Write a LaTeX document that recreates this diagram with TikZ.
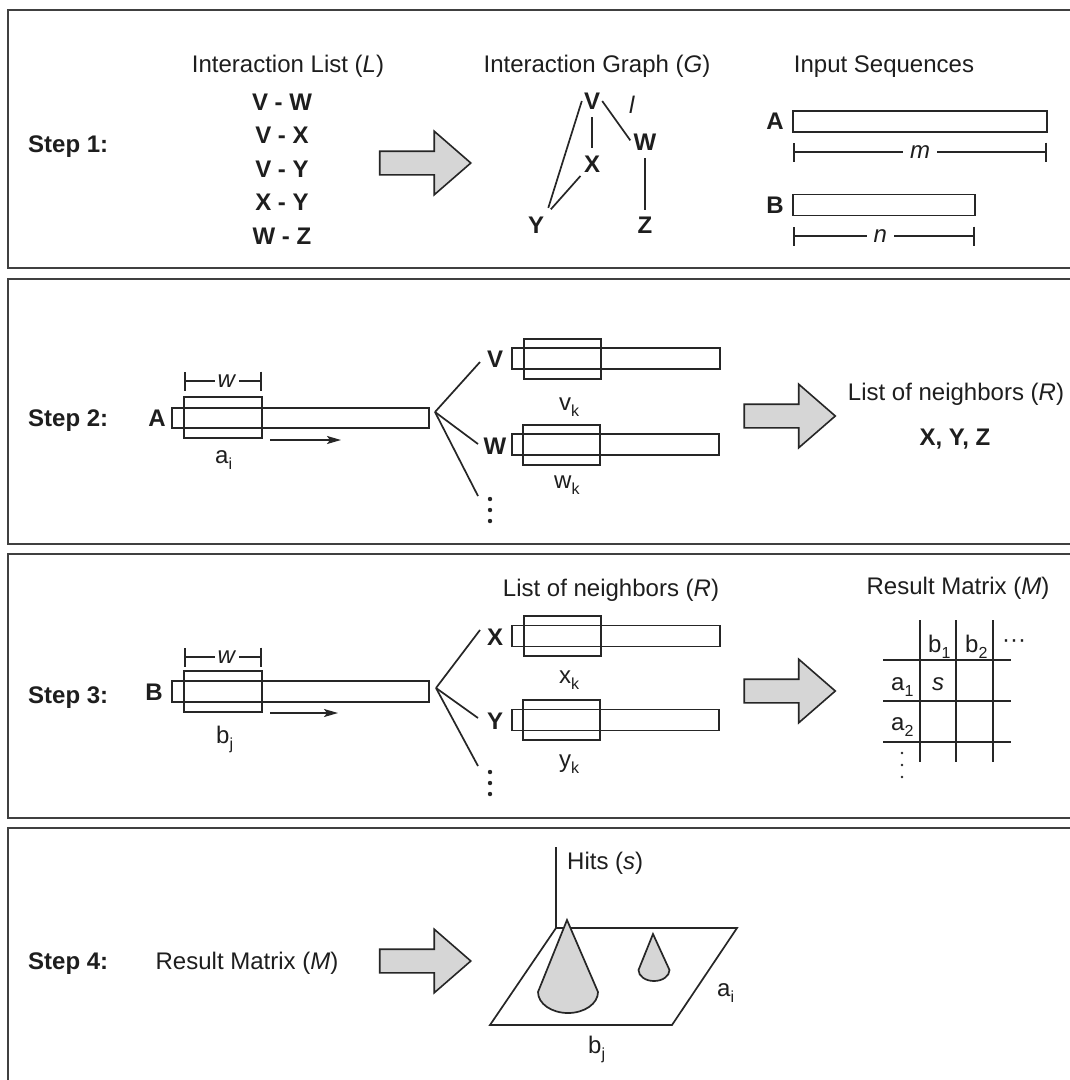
\documentclass[tikz,border=0pt]{standalone}
\usepackage{fontspec}
\setmainfont{Liberation Sans}
\usetikzlibrary{shapes.arrows,arrows.meta,calc}
\definecolor{lncol}{HTML}{262626}
\definecolor{txcol}{HTML}{1E1E1E}
\definecolor{gfill}{HTML}{D6D6D6}
\definecolor{framecol}{HTML}{404040}
\newcommand\mysub[1]{\raisebox{-0.55ex}{\fontsize{16}{16}\selectfont #1}}
\begin{document}
\begin{tikzpicture}[x=1pt,y=-1pt,line join=miter,
  txt/.style={font=\fontsize{24}{28}\selectfont, text=txcol, inner sep=0pt},
  bld/.style={font=\fontsize{24}{28}\selectfont\bfseries, text=txcol, inner sep=0pt},
  seq/.style={draw=lncol, line width=1.8pt, rectangle, inner sep=0pt},
  win/.style={draw=lncol, line width=2pt, rectangle, inner sep=0pt, minimum width=77pt, minimum height=40pt},
  panel/.style={draw=framecol, line width=2.4pt},
  blk/.style={single arrow, draw=lncol, fill=gfill, line width=1.6pt, minimum height=91pt, inner xsep=0pt, inner ysep=11pt, single arrow head extend=20pt, single arrow tip angle=82},
  wire/.style={draw=lncol, line width=1.7pt},
  dimline/.style={draw=lncol, line width=1.6pt, {Bar[width=19pt]}-{Bar[width=19pt]}},
  gnode/.style={bld, inner sep=2pt},
  dotc/.style={fill=lncol, draw=none}]
\fill[white] (0,0) rectangle (1070,1080);
\useasboundingbox (0,0) rectangle (1070,1080);

% panels
\draw[panel] (8,10) rectangle (1090,268);
\draw[panel] (8,279) rectangle (1090,544);
\draw[panel] (8,554) rectangle (1090,818);
\draw[panel] (8,828) rectangle (1090,1100);

%================ STEP 1
\node[bld, anchor=base west] (s1) at (28,152) {Step 1:};
\node[txt, anchor=base] (hL) at (288,72) {Interaction List (\textit{L})};
\node[txt, anchor=base] (hG) at (597,72) {Interaction Graph (\textit{G})};
\node[txt, anchor=base] (hI) at (884,72) {Input Sequences};
\node[bld, anchor=base] (l1) at (282,110) {V - W};
\node[bld, anchor=base] (l2) at (282,143) {V - X};
\node[bld, anchor=base] (l3) at (282,177) {V - Y};
\node[bld, anchor=base] (l4) at (282,210) {X - Y};
\node[bld, anchor=base] (l5) at (282,244) {W - Z};
\node[blk] (ba1) at (418.5,163) {};

% graph
\node[gnode] (gV) at (592,101) {V};
\node[gnode] (gX) at (592,164) {X};
\node[gnode] (gW) at (645,142) {W};
\node[gnode] (gY) at (536,225) {Y};
\node[gnode] (gZ) at (645,225) {Z};
\node[txt] (gl) at (632,105) {\textit{l}};
\draw[wire, shorten >=7pt] (gV.west) -- (gY.north east);
\draw[wire, shorten <=6pt, shorten >=6pt] (gV.south) -- (gX.north);
\draw[wire, shorten >=2pt] (gV.east) -- (gW.west);
\draw[wire, shorten <=2pt, shorten >=7pt] (gX.south west) -- (gY.north east);
\draw[wire, shorten <=6pt, shorten >=5pt] (gW.south) -- (gZ.north);

% input sequences
\node[bld] (sA) at (775,121) {A};
\node[seq, minimum width=254pt, minimum height=21pt] (rA) at (920,121.5) {};
\node[bld] (sB) at (775,205) {B};
\node[seq, minimum width=182pt, minimum height=21pt] (rB) at (884,205) {};
\coordinate (mA1) at (793,152);
\coordinate (mA2) at (1047,152);
\coordinate (nB1) at (793,236);
\coordinate (nB2) at (975,236);
\draw[dimline] (mA1) -- (mA2) node[txt, midway, fill=white, inner xsep=7pt, inner ysep=1pt] (mlab) {\textit{m}};
\draw[dimline] (nB1) -- (nB2) node[txt, pos=0.48, fill=white, inner xsep=7pt, inner ysep=1pt] (nlab) {\textit{n}};

%================ STEP 2
\node[bld, anchor=base west] (s2) at (28,426) {Step 2:};
\node[bld] (a2A) at (157,418) {A};
\node[seq, minimum width=257pt, minimum height=20pt] (r2A) at (300.5,418) {};
\node[win, minimum width=78pt, minimum height=41pt] (w2A) at (223,417.5) {};
\coordinate (w2a) at (184,381);
\coordinate (w2b) at (262,381);
\draw[dimline] (w2a) -- (w2b) node[txt, pos=0.55, fill=white, inner xsep=3pt, inner ysep=1pt] (w2lab) {\textit{w}};
\coordinate (mv2a) at (270,440);
\coordinate (mv2b) at (341,440);
\draw[wire, -{Stealth[length=14pt,width=8pt,inset=3pt]}] (mv2a) -- (mv2b);
\node[txt, anchor=base west] (ai2) at (215,463) {a\mysub{i}};

\coordinate (ap2) at (435,412);
\node[bld] (fV) at (495,359) {V};
\node[seq, minimum width=208pt, minimum height=21pt] (rV) at (616,358.5) {};
\node[win] (wV) at (562.5,358.5) {};
\node[txt, anchor=base west] (vk) at (559,410) {v\mysub{k}};
\node[bld] (fW) at (495,446) {W};
\node[seq, minimum width=207pt, minimum height=21pt] (rW) at (615.5,444.5) {};
\node[win] (wW) at (561.5,444.5) {};
\node[txt, anchor=base west] (wk) at (554,488) {w\mysub{k}};
\coordinate (eV) at (480,362);
\coordinate (eW) at (478,444);
\coordinate (eD2) at (478,496);
\draw[wire] (ap2) -- (eV);
\draw[wire] (ap2) -- (eW);
\draw[wire] (ap2) -- (eD2);
\fill[dotc] (490,499) circle (2.2pt) (490,510) circle (2.2pt) (490,521) circle (2.2pt);

\node[blk] (ba2) at (783,416) {};
\node[txt, anchor=base] (nR2) at (956,400) {List of neighbors (\textit{R})};
\node[bld, anchor=base] (xyz) at (955,445) {X, Y, Z};

%================ STEP 3
\node[bld, anchor=base west] (s3) at (28,703) {Step 3:};
\node[bld] (b3B) at (154,692) {B};
\node[seq, minimum width=257pt, minimum height=21pt] (r3B) at (300.5,691.5) {};
\node[win, minimum width=78pt, minimum height=41pt] (w3B) at (223,691) {};
\coordinate (w3a) at (184,657);
\coordinate (w3b) at (262,657);
\draw[dimline] (w3a) -- (w3b) node[txt, pos=0.55, fill=white, inner xsep=3pt, inner ysep=1pt] (w3lab) {\textit{w}};
\coordinate (mv3a) at (270,713);
\coordinate (mv3b) at (338,713);
\draw[wire, -{Stealth[length=14pt,width=8pt,inset=3pt]}] (mv3a) -- (mv3b);
\node[txt, anchor=base west] (bj3) at (216,743) {b\mysub{j}};

\coordinate (ap3) at (436,688);
\node[txt, anchor=base] (nR3) at (611,596) {List of neighbors (\textit{R})};
\node[bld] (fX) at (495,637) {X};
\node[seq, minimum width=208pt, minimum height=21pt] (rX) at (616,636) {};
\node[win] (wX) at (562.5,636) {};
\node[txt, anchor=base west] (xk) at (559,683) {x\mysub{k}};
\node[bld] (fY) at (495,721) {Y};
\node[seq, minimum width=207pt, minimum height=21pt] (rY) at (615.5,720) {};
\node[win] (wY) at (561.5,720) {};
\node[txt, anchor=base west] (yk) at (559,767) {y\mysub{k}};
\coordinate (eX) at (480,630);
\coordinate (eY) at (478,718);
\coordinate (eD3) at (478,766);
\draw[wire] (ap3) -- (eX);
\draw[wire] (ap3) -- (eY);
\draw[wire] (ap3) -- (eD3);
\fill[dotc] (490,772) circle (2.2pt) (490,783) circle (2.2pt) (490,794) circle (2.2pt);

\node[blk] (ba3) at (783,691) {};
\node[txt, anchor=base] (rm3) at (958,594) {Result Matrix (\textit{M})};
% matrix grid
\draw[wire, line width=1.8pt] (920,620) -- (920,762) (956,620) -- (956,762) (993,620) -- (993,762);
\draw[wire, line width=1.8pt] (883,660) -- (1011,660) (883,701) -- (1011,701) (883,742) -- (1011,742);
\node[txt, anchor=base west] (mb1) at (928,652) {b\mysub{1}};
\node[txt, anchor=base west] (mb2) at (965,652) {b\mysub{2}};
\node[txt, anchor=base west] (mdots) at (1002,647) {···};
\node[txt, anchor=base west] (ma1) at (891,690) {a\mysub{1}};
\node[txt, anchor=base west] (ms) at (932,690) {\textit{s}};
\node[txt, anchor=base west] (ma2) at (891,730) {a\mysub{2}};
\fill[dotc] (902,753) circle (1.4pt) (902,765) circle (1.4pt) (902,777) circle (1.4pt);

%================ STEP 4
\node[bld, anchor=base west] (s4) at (28,969) {Step 4:};
\node[txt, anchor=base] (rm4) at (247,969) {Result Matrix (\textit{M})};
\node[blk] (ba4) at (418.5,961) {};
\draw[wire] (556,928) -- (737,928) -- (672,1025) -- (490,1025) -- cycle;
\draw[wire] (556,847) -- (556,928);
\node[txt, anchor=base west] (hits) at (567,869) {Hits (\textit{s})};
% big cone
\filldraw[wire, fill=gfill] (567,920) -- (598,992)
  .. controls (598,1003.6) and (584.6,1013) .. (568,1013)
  .. controls (551.4,1013) and (538,1003.6) .. (538,992) -- cycle;
% small cone
\filldraw[wire, fill=gfill] (653,934) -- (669.5,970)
  .. controls (669.5,976.1) and (662.6,981) .. (654,981)
  .. controls (645.4,981) and (638.5,976.1) .. (638.5,970) -- cycle;
\node[txt, anchor=base west] (ai4) at (717,996) {a\mysub{i}};
\node[txt, anchor=base west] (bj4) at (588,1053) {b\mysub{j}};
\end{tikzpicture}
\end{document}
